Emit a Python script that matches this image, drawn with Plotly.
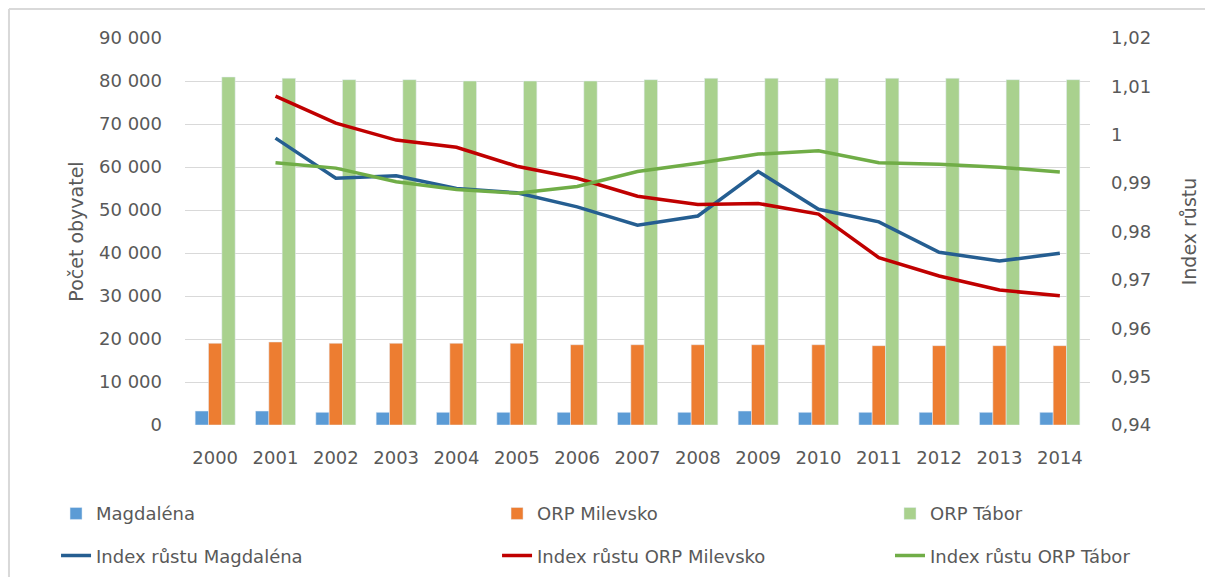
import plotly.graph_objects as go

years = [str(y) for y in range(2000, 2015)]

pop_magdalena = [3250, 3250, 2950, 2950, 2950, 2950, 2950, 2950, 2950, 3250, 2950, 2950, 2950, 2950, 2950]
pop_milevsko = [19000, 19300, 19000, 19000, 19000, 19000, 18670, 18670, 18670, 18670, 18670, 18450, 18450, 18450, 18450]
pop_tabor = [80930, 80630, 80300, 80300, 80000, 80000, 80000, 80300, 80630, 80630, 80630, 80630, 80630, 80300, 80300]

idx_magdalena = [None, 0.9993, 0.9910, 0.9915, 0.9889, 0.9880, 0.9851, 0.9813, 0.9832, 0.9924, 0.9846, 0.9820, 0.9757, 0.9739, 0.9755]
idx_milevsko = [None, 1.0080, 1.0024, 0.9989, 0.9974, 0.9935, 0.9910, 0.9873, 0.9856, 0.9858, 0.9836, 0.9746, 0.9708, 0.9679, 0.9667]
idx_tabor = [None, 0.9942, 0.9931, 0.9903, 0.9887, 0.9879, 0.9893, 0.9924, 0.9941, 0.9960, 0.9967, 0.9942, 0.9939, 0.9933, 0.9923]

left_tickvals = [0, 10000, 20000, 30000, 40000, 50000, 60000, 70000, 80000, 90000]
left_ticktext = ["0", "10 000", "20 000", "30 000", "40 000", "50 000", "60 000", "70 000", "80 000", "90 000"]
right_tickvals = [0.94, 0.95, 0.96, 0.97, 0.98, 0.99, 1.00, 1.01, 1.02]
right_ticktext = ["0,94", "0,95", "0,96", "0,97", "0,98", "0,99", "1", "1,01", "1,02"]

FONT = "DejaVu Sans"
TXT = "#595959"

fig = go.Figure()
fig.add_trace(go.Bar(x=years, y=pop_magdalena, name="Magdaléna",
                     marker_color="#5B9BD5", legend="legend"))
fig.add_trace(go.Bar(x=years, y=pop_milevsko, name="ORP Milevsko",
                     marker_color="#ED7D31", legend="legend2"))
fig.add_trace(go.Bar(x=years, y=pop_tabor, name="ORP Tábor",
                     marker_color="#A9D18E", legend="legend3"))
fig.add_trace(go.Scatter(x=years, y=idx_magdalena, name="Index růstu Magdaléna", yaxis="y2",
                         mode="lines", line=dict(color="#255E91", width=3.5),
                         legend="legend4"))
fig.add_trace(go.Scatter(x=years, y=idx_milevsko, name="Index růstu ORP Milevsko", yaxis="y2",
                         mode="lines", line=dict(color="#C00000", width=3.5),
                         legend="legend5"))
fig.add_trace(go.Scatter(x=years, y=idx_tabor, name="Index růstu ORP Tábor", yaxis="y2",
                         mode="lines", line=dict(color="#70AD47", width=3.5),
                         legend="legend6"))

common = dict(orientation="v", yanchor="top", xanchor="left",
              font=dict(family=FONT, size=18, color=TXT), bgcolor="rgba(0,0,0,0)")
col_x = [-0.1425, 0.3448, 0.779]
row_y = [-0.1815, -0.2905]

fig.update_layout(
    width=1205, height=577,
    margin=dict(l=185, r=115, t=38, b=152, autoexpand=False),
    paper_bgcolor="white", plot_bgcolor="white",
    showlegend=True,
    barmode="group", bargap=0.337, bargroupgap=0,
    font=dict(family=FONT, color=TXT),
    xaxis=dict(type="category", tickfont=dict(size=18, color=TXT), showgrid=False,
               showline=False, ticks="", ticklabelstandoff=20),
    yaxis=dict(range=[0, 90000], tickvals=left_tickvals, ticktext=left_ticktext,
               tickfont=dict(size=18, color=TXT), showgrid=True, gridcolor="#D9D9D9",
               gridwidth=1.3, zeroline=False, showline=False, ticks="",
               ticklabelstandoff=22,
               title=dict(text="Počet obyvatel", font=dict(size=19, color=TXT), standoff=10)),
    yaxis2=dict(range=[0.94, 1.02], tickvals=right_tickvals, ticktext=right_ticktext,
                overlaying="y", side="right", showgrid=False, zeroline=False,
                tickfont=dict(size=18, color=TXT), ticks="", ticklabelstandoff=20,
                title=dict(text="Index růstu", font=dict(size=19, color=TXT), standoff=32)),
    legend=dict(common, x=col_x[0], y=row_y[0]),
    legend2=dict(common, x=col_x[1], y=row_y[0]),
    legend3=dict(common, x=col_x[2], y=row_y[0]),
    legend4=dict(common, x=col_x[0], y=row_y[1]),
    legend5=dict(common, x=col_x[1], y=row_y[1]),
    legend6=dict(common, x=col_x[2], y=row_y[1]),
    shapes=[
        dict(type="line", xref="paper", yref="paper", x0=-0.1945, x1=1.2, y0=1.0749, y1=1.0749,
             line=dict(color="#D9D9D9", width=2)),
        dict(type="line", xref="paper", yref="paper", x0=-0.1945, x1=-0.1945, y0=1.0749, y1=-0.40,
             line=dict(color="#D9D9D9", width=2)),
    ],
)

fig.write_html(
    "out.html",
    config={"displayModeBar": False},
    post_script="document.body.style.margin='0';document.body.style.overflow='hidden';",
)
